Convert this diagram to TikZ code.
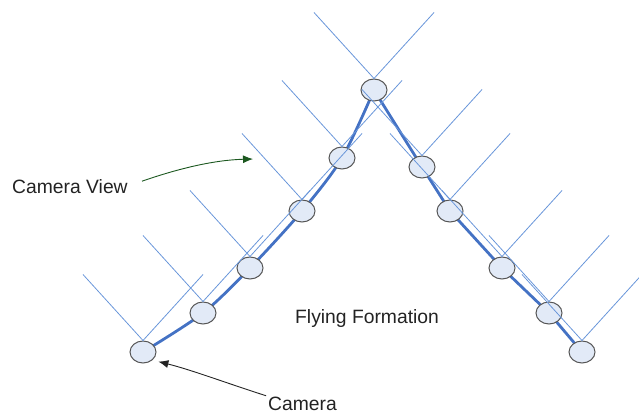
\documentclass[tikz,border=0pt]{standalone}
\usepackage{fontspec}
\setmainfont{Liberation Sans}
\definecolor{fovblue}{RGB}{105,150,218}
\definecolor{pathblue}{RGB}{68,114,196}
\definecolor{camfill}{RGB}{226,234,247}
\definecolor{camdraw}{RGB}{85,85,85}
\definecolor{arrowgreen}{RGB}{28,88,32}
\definecolor{textgray}{RGB}{35,35,35}
\usetikzlibrary{arrows.meta,shapes.geometric}
\begin{document}
\begin{tikzpicture}[x=1pt,y=-1pt,
    camera/.style={ellipse,draw=camdraw,fill=camfill,line width=1pt,
      minimum width=26pt,minimum height=22pt,inner sep=0pt},
    fov/.style={fovblue,line width=0.8pt},
    formation/.style={pathblue,line width=2.8pt,line join=round},
    labeltext/.style={inner sep=0pt,text=textgray,font=\fontsize{19.3}{23}\selectfont},
  ]
  \useasboundingbox (0,0) rectangle (639,415);

  % drone positions
  \foreach \n/\x/\y in {1/143/352, 2/203/313, 3/250/268, 4/302/211, 5/342/158,
      6/374/90, 7/422/167, 8/450/211, 9/502/268, 10/549/313, 11/582/352}
    \coordinate (p\n) at (\x,\y);

  % formation line, drawn under the drones
  \draw[formation] plot[smooth,tension=0.5] coordinates {(p1) (p2) (p3) (p4) (p5) (p6)}
    -- (p7) -- (p8) -- (p9) -- (p10) -- (p11);

  \foreach \n in {1,...,11}
    \node[camera] (cam\n) at (p\n) {};

  % field of view of each camera
  \foreach \n in {1,...,11}
    \draw[fov] (cam\n.north) ++(-60,-66) -- (cam\n.north) -- ++(60,-66);

  % labels
  \node[labeltext,anchor=base west] (viewtxt) at (12,193) {Camera View};
  \node[labeltext,anchor=base west] (formtxt) at (295,323) {Flying Formation};
  \node[labeltext,anchor=base west] (camtxt) at (268,410) {Camera};

  \coordinate (viewtip) at (253,159);
  \draw[arrowgreen,line width=0.9pt,-{Latex[length=10pt,width=8pt]},shorten <=15pt]
    (viewtxt.east) .. controls (180,168) and (215,160) .. (viewtip);
  \draw[textgray,line width=0.9pt,-{Latex[length=10pt,width=8pt]},shorten <=2pt,shorten >=6pt]
    (camtxt.north west) .. controls (232,385) and (192,370) .. (cam1.south east);
\end{tikzpicture}
\end{document}
